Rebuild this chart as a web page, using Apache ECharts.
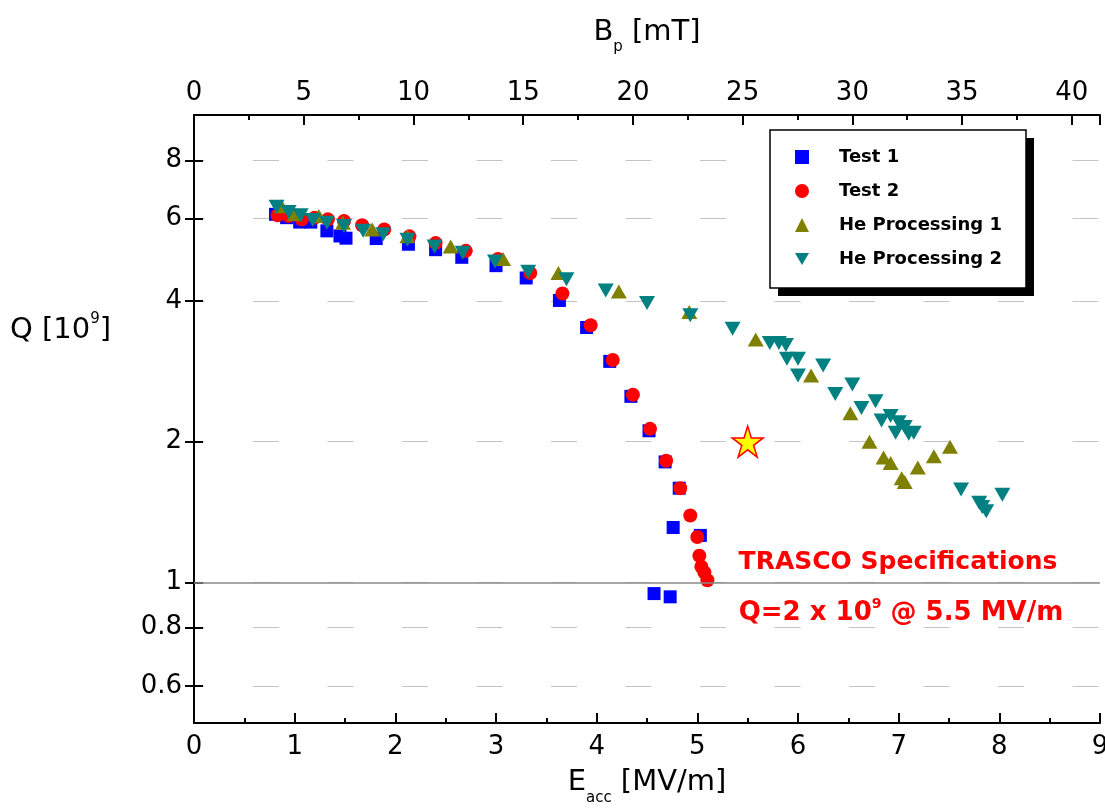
<!DOCTYPE html>
<html>
<head>
<meta charset="utf-8">
<script src="https://cdn.jsdelivr.net/npm/echarts@6/dist/echarts.min.js"></script>
<style>
  html, body { margin: 0; padding: 0; background: #ffffff; }
  #chart { width: 1105px; height: 809px; }
</style>
</head>
<body>
<div id="chart"></div>
<script>
// Q (in units of 1e9) versus accelerating gradient Eacc [MV/m]
const qTicks = [0.6, 0.8, 1, 2, 4, 6, 8];
const bpPerEacc = 4.587;        // peak surface field per unit gradient [mT/(MV/m)]
const eaccMax = 9;
const refQ = 1;                 // reference level drawn as a solid line
const specE = 5.5;              // TRASCO specification gradient
const specQ = 2;                // TRASCO specification Q (x 1e9)

const test1 = [
  [0.81, 6.13], [0.92, 6.03], [1.05, 5.90], [1.16, 5.90], [1.32, 5.65],
  [1.45, 5.51], [1.51, 5.45], [1.81, 5.44], [2.13, 5.29], [2.40, 5.15],
  [2.66, 4.96], [3.00, 4.76], [3.30, 4.48], [3.63, 4.01], [3.90, 3.51],
  [4.13, 2.97], [4.34, 2.50], [4.52, 2.11], [4.68, 1.81], [4.82, 1.59],
  [4.76, 1.31], [5.03, 1.26], [4.57, 0.946], [4.73, 0.931]
];
const test2 = [
  [0.83, 6.10], [0.94, 6.08], [1.07, 5.98], [1.20, 6.03], [1.33, 5.98],
  [1.49, 5.93], [1.67, 5.81], [1.89, 5.69], [2.14, 5.50], [2.40, 5.32],
  [2.70, 5.12], [3.02, 4.92], [3.34, 4.59], [3.66, 4.15], [3.94, 3.55],
  [4.16, 2.99], [4.36, 2.52], [4.53, 2.13], [4.69, 1.82], [4.83, 1.59],
  [4.93, 1.39], [5.00, 1.25], [5.02, 1.14], [5.04, 1.08], [5.07, 1.05],
  [5.10, 1.01]
];
const heProc1 = [
  [0.87, 6.38], [1.00, 6.13], [1.24, 6.08], [1.48, 5.88], [1.77, 5.69],
  [2.12, 5.50], [2.55, 5.23], [3.07, 4.92], [3.62, 4.59], [4.22, 4.19],
  [4.92, 3.79], [5.58, 3.31], [6.13, 2.77], [6.52, 2.30], [6.71, 2.00],
  [6.85, 1.85], [6.92, 1.80], [7.03, 1.67], [7.06, 1.64], [7.19, 1.76],
  [7.35, 1.86], [7.51, 1.95]
];
const heProc2 = [
  [0.82, 6.36], [0.94, 6.20], [1.06, 6.10], [1.18, 5.96], [1.32, 5.88],
  [1.49, 5.79], [1.68, 5.65], [1.88, 5.56], [2.12, 5.41], [2.39, 5.23],
  [2.67, 5.07], [2.99, 4.86], [3.32, 4.62], [3.70, 4.45], [4.09, 4.21],
  [4.50, 3.96], [4.93, 3.73], [5.35, 3.49], [5.72, 3.25], [5.81, 3.25],
  [5.88, 3.22], [5.89, 3.01], [6.00, 3.01], [6.00, 2.77], [6.25, 2.91],
  [6.37, 2.53], [6.54, 2.65], [6.63, 2.36], [6.77, 2.44], [6.83, 2.22],
  [6.92, 2.27], [6.97, 2.09], [7.00, 2.20], [7.06, 2.15], [7.10, 2.08],
  [7.15, 2.09], [7.62, 1.58], [7.80, 1.48], [7.83, 1.45], [7.87, 1.42],
  [8.03, 1.54]
];
const specPoint = [[specE, specQ]];

const seriesNames = ['Test 1', 'Test 2', 'He Processing 1', 'He Processing 2'];

const FONT = 'DejaVu Sans';
const triDown = 'path://M0,0 L10,0 L5,8.66 Z';
const star = 'path://M50,0 L61.2,34.5 L97.6,34.5 L68.2,55.9 L79.4,90.5 L50,69.1 L20.6,90.5 L31.8,55.9 L2.4,34.5 L38.8,34.5 Z';

const chart = echarts.init(document.getElementById('chart'), null, { renderer: 'canvas' });

const axisLineStyle = { color: '#000', width: 2 };
// axis titles with a lowered subscript
const nameRich = {
  m: { fontFamily: FONT, fontSize: 29, color: '#000', lineHeight: 36 },
  s: { fontFamily: FONT, fontSize: 15, color: '#000', lineHeight: 15, verticalAlign: 'top', padding: [26, 0, 0, 0] }
};

chart.setOption({
  animation: false,
  backgroundColor: '#ffffff',
  grid: { left: 194, right: 5, top: 115, bottom: 86, containLabel: false, outerBoundsMode: 'none' },
  xAxis: [
    {
      type: 'value', position: 'bottom', min: 0, max: eaccMax, interval: 1,
      name: '{m|E}{s|acc}{m| [MV/m]}', nameLocation: 'middle', nameGap: 40,
      nameTextStyle: { rich: nameRich },
      axisLine: { lineStyle: axisLineStyle },
      axisTick: { inside: true, length: 10, lineStyle: { color: '#000', width: 2 } },
      minorTick: { show: true, splitNumber: 2, length: 5, lineStyle: { color: '#000', width: 2 } },
      axisLabel: { fontFamily: FONT, fontSize: 26, color: '#000', margin: 11 },
      splitLine: { show: false }
    },
    {
      type: 'value', position: 'top', min: 0, max: eaccMax * bpPerEacc, interval: 5,
      name: '{m|B}{s|p}{m| [mT]}', nameLocation: 'middle', nameGap: 65,
      nameTextStyle: { rich: nameRich },
      axisLine: { lineStyle: axisLineStyle },
      axisTick: { inside: true, length: 10, lineStyle: { color: '#000', width: 2 } },
      minorTick: { show: true, splitNumber: 2, length: 5, lineStyle: { color: '#000', width: 2 } },
      axisLabel: { fontFamily: FONT, fontSize: 26, color: '#000', margin: 9, showMaxLabel: false },
      splitLine: { show: false }
    }
  ],
  yAxis: [
    {
      type: 'log', logBase: 10, min: 0.5, max: 10, position: 'left',
      axisLine: { lineStyle: axisLineStyle },
      axisTick: { inside: true, length: 9, customValues: qTicks, lineStyle: { color: '#000', width: 2 } },
      axisLabel: { customValues: qTicks, fontFamily: FONT, fontSize: 26, color: '#000', margin: 12 },
      splitLine: {
        show: true,
        lineStyle: { color: '#c4c4c4', width: 1, type: [26, 48.5], dashOffset: 15.5 }
      },
      minorTick: { show: false }
    },
    {
      type: 'log', logBase: 10, min: 0.5, max: 10, position: 'right',
      axisLine: { lineStyle: axisLineStyle },
      axisTick: { inside: true, length: 9, customValues: qTicks, lineStyle: { color: '#000', width: 2 } },
      axisLabel: { show: false, customValues: qTicks },
      splitLine: { show: false }
    }
  ],
  legend: {
    data: seriesNames,
    orient: 'vertical',
    left: 795, top: 147,
    padding: 0,
    itemWidth: 14, itemHeight: 14, itemGap: 14,
    selectedMode: false,
    textStyle: { fontFamily: FONT, fontSize: 18, fontWeight: 'bold', color: '#000', lineHeight: 20, padding: [0, 0, 0, 25] },
    z: 10
  },
  graphic: [
    { type: 'rect', z: 5, shape: { x: 778, y: 138, width: 256, height: 158 }, style: { fill: '#000' } },
    { type: 'rect', z: 6, shape: { x: 770, y: 130, width: 256, height: 158 }, style: { fill: '#fff', stroke: '#000', lineWidth: 1.5 } },
    {
      type: 'text', z: 10, x: 10, y: 330,
      style: {
        text: '{m|Q [10}{s|9}{m|]}',
        verticalAlign: 'middle',
        rich: {
          m: { fontFamily: FONT, fontSize: 29, fill: '#000', lineHeight: 36 },
          s: { fontFamily: FONT, fontSize: 15, fill: '#000', lineHeight: 15, verticalAlign: 'top' }
        }
      }
    },
    {
      type: 'text', z: 10, x: 898, y: 562,
      style: {
        text: 'TRASCO Specifications',
        fill: '#ff0000', font: 'bold 25px ' + FONT,
        align: 'center', verticalAlign: 'middle'
      }
    },
    {
      type: 'text', z: 10, x: 901, y: 613,
      style: {
        text: '{m|Q=' + specQ + ' x 10}{s|9}{m| @ ' + specE + ' MV/m}',
        align: 'center', verticalAlign: 'middle',
        rich: {
          m: { fontFamily: FONT, fontWeight: 'bold', fontSize: 26, fill: '#ff0000', lineHeight: 32 },
          s: { fontFamily: FONT, fontWeight: 'bold', fontSize: 14, fill: '#ff0000', lineHeight: 14, verticalAlign: 'top' }
        }
      }
    }
  ],
  series: [
    {
      name: 'Test 1', type: 'scatter', xAxisIndex: 0, yAxisIndex: 0,
      data: test1, symbol: 'rect', symbolSize: 13,
      itemStyle: { color: '#0000ff', opacity: 1 },
      markLine: {
        silent: true, symbol: ['none', 'none'],
        label: { show: false },
        lineStyle: { color: '#8a8a8a', width: 1.5, type: 'solid' },
        data: [{ yAxis: refQ }]
      }
    },
    {
      name: 'Test 2', type: 'scatter', xAxisIndex: 0, yAxisIndex: 0,
      data: test2, symbol: 'circle', symbolSize: 14,
      itemStyle: { color: '#ff0000', opacity: 1 }
    },
    {
      name: 'He Processing 1', type: 'scatter', xAxisIndex: 0, yAxisIndex: 0,
      data: heProc1, symbol: 'triangle', symbolSize: [16, 14],
      itemStyle: { color: '#808000', opacity: 1 }
    },
    {
      name: 'He Processing 2', type: 'scatter', xAxisIndex: 0, yAxisIndex: 0,
      data: heProc2, symbol: triDown, symbolSize: [16, 14],
      itemStyle: { color: '#008080', opacity: 1 }
    },
    {
      name: 'TRASCO', type: 'scatter', xAxisIndex: 0, yAxisIndex: 0,
      data: specPoint, symbol: star, symbolSize: 31,
      itemStyle: { color: '#ffff00', borderColor: '#ff0000', borderWidth: 1.5, opacity: 1 }
    }
  ]
});
</script>
</body>
</html>
